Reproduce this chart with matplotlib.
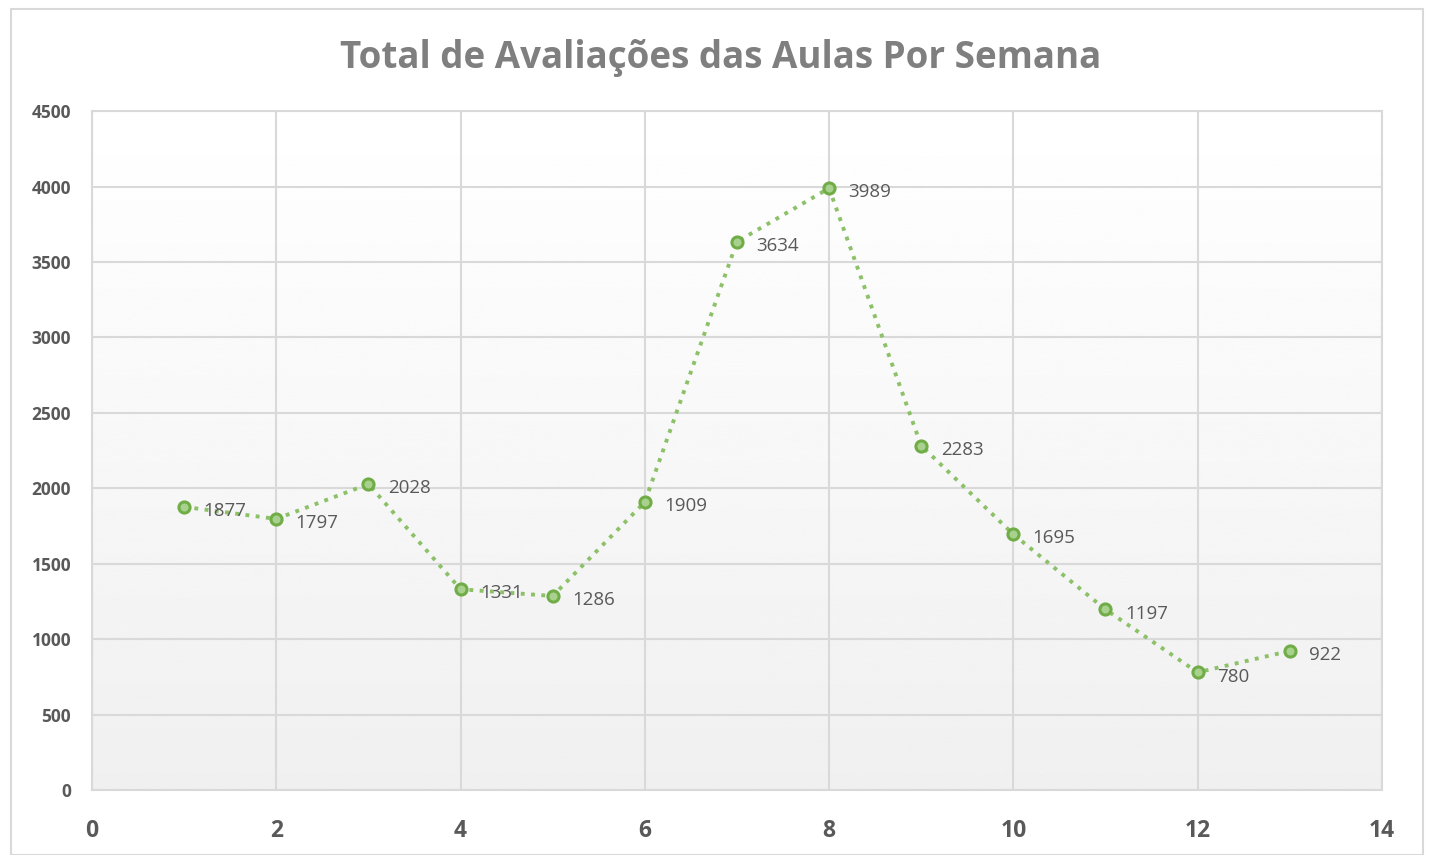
import matplotlib.pyplot as plt
import numpy as np
from matplotlib.patches import Rectangle

semanas = [1, 2, 3, 4, 5, 6, 7, 8, 9, 10, 11, 12, 13]
avaliacoes = [1877, 1797, 2028, 1331, 1286, 1909, 3634, 3989, 2283, 1695, 1197, 780, 922]
titulo = 'Total de Avaliações das Aulas Por Semana'

plt.rcParams['font.family'] = ['Open Sans', 'DejaVu Sans']

fig = plt.figure(figsize=(14.29, 8.55), dpi=100)
ax = fig.add_axes([0.0644, 0.076, 0.9026, 0.794])

# moldura da figura
fig.patches.append(Rectangle((0.008, 0.0), 0.988, 0.989, transform=fig.transFigure,
                             fill=False, edgecolor='#d9d9d9', linewidth=1.5))

# fundo com gradiente (branco -> cinza claro)
grad = np.linspace(1.0, 0.94, 256).reshape(-1, 1)
ax.imshow(grad, cmap='gray', vmin=0, vmax=1, aspect='auto',
          extent=[0, 14, 0, 4500], origin='upper', zorder=0)

ax.plot(semanas, avaliacoes, linestyle=':', color='#8cc168', linewidth=2.8, zorder=3)
ax.plot(semanas, avaliacoes, linestyle='none', marker='o', markersize=8,
        markerfacecolor='#a9d18e', markeredgecolor='#70ad47', markeredgewidth=2.2, zorder=4)

for x, y in zip(semanas, avaliacoes):
    ax.annotate(str(y), (x, y), xytext=(14, -3), textcoords='offset points',
                ha='left', va='center', fontsize=13.5, color='#595959', zorder=5)

ax.set_xlim(0, 14)
ax.set_ylim(0, 4500)
ax.set_xticks(range(0, 15, 2))
ax.set_yticks(range(0, 4501, 500))
ax.grid(True, color='#d9d9d9', linewidth=1.5, zorder=1)
ax.set_axisbelow(True)
for s in ax.spines.values():
    s.set_color('#d9d9d9')
    s.set_linewidth(1.5)
ax.tick_params(length=0)
for lbl in ax.get_xticklabels():
    lbl.set_fontsize(16.5)
    lbl.set_fontweight('bold')
    lbl.set_color('#595959')
for lbl in ax.get_yticklabels():
    lbl.set_fontsize(12.5)
    lbl.set_fontweight('bold')
    lbl.set_color('#595959')
ax.tick_params(axis='x', pad=21)
ax.tick_params(axis='y', pad=15)

fig.text(0.5045, 0.932, titulo, ha='center', va='center', fontsize=26.5,
         fontweight='bold', color='#7f7f7f')

fig.savefig('out.png', dpi=100)
